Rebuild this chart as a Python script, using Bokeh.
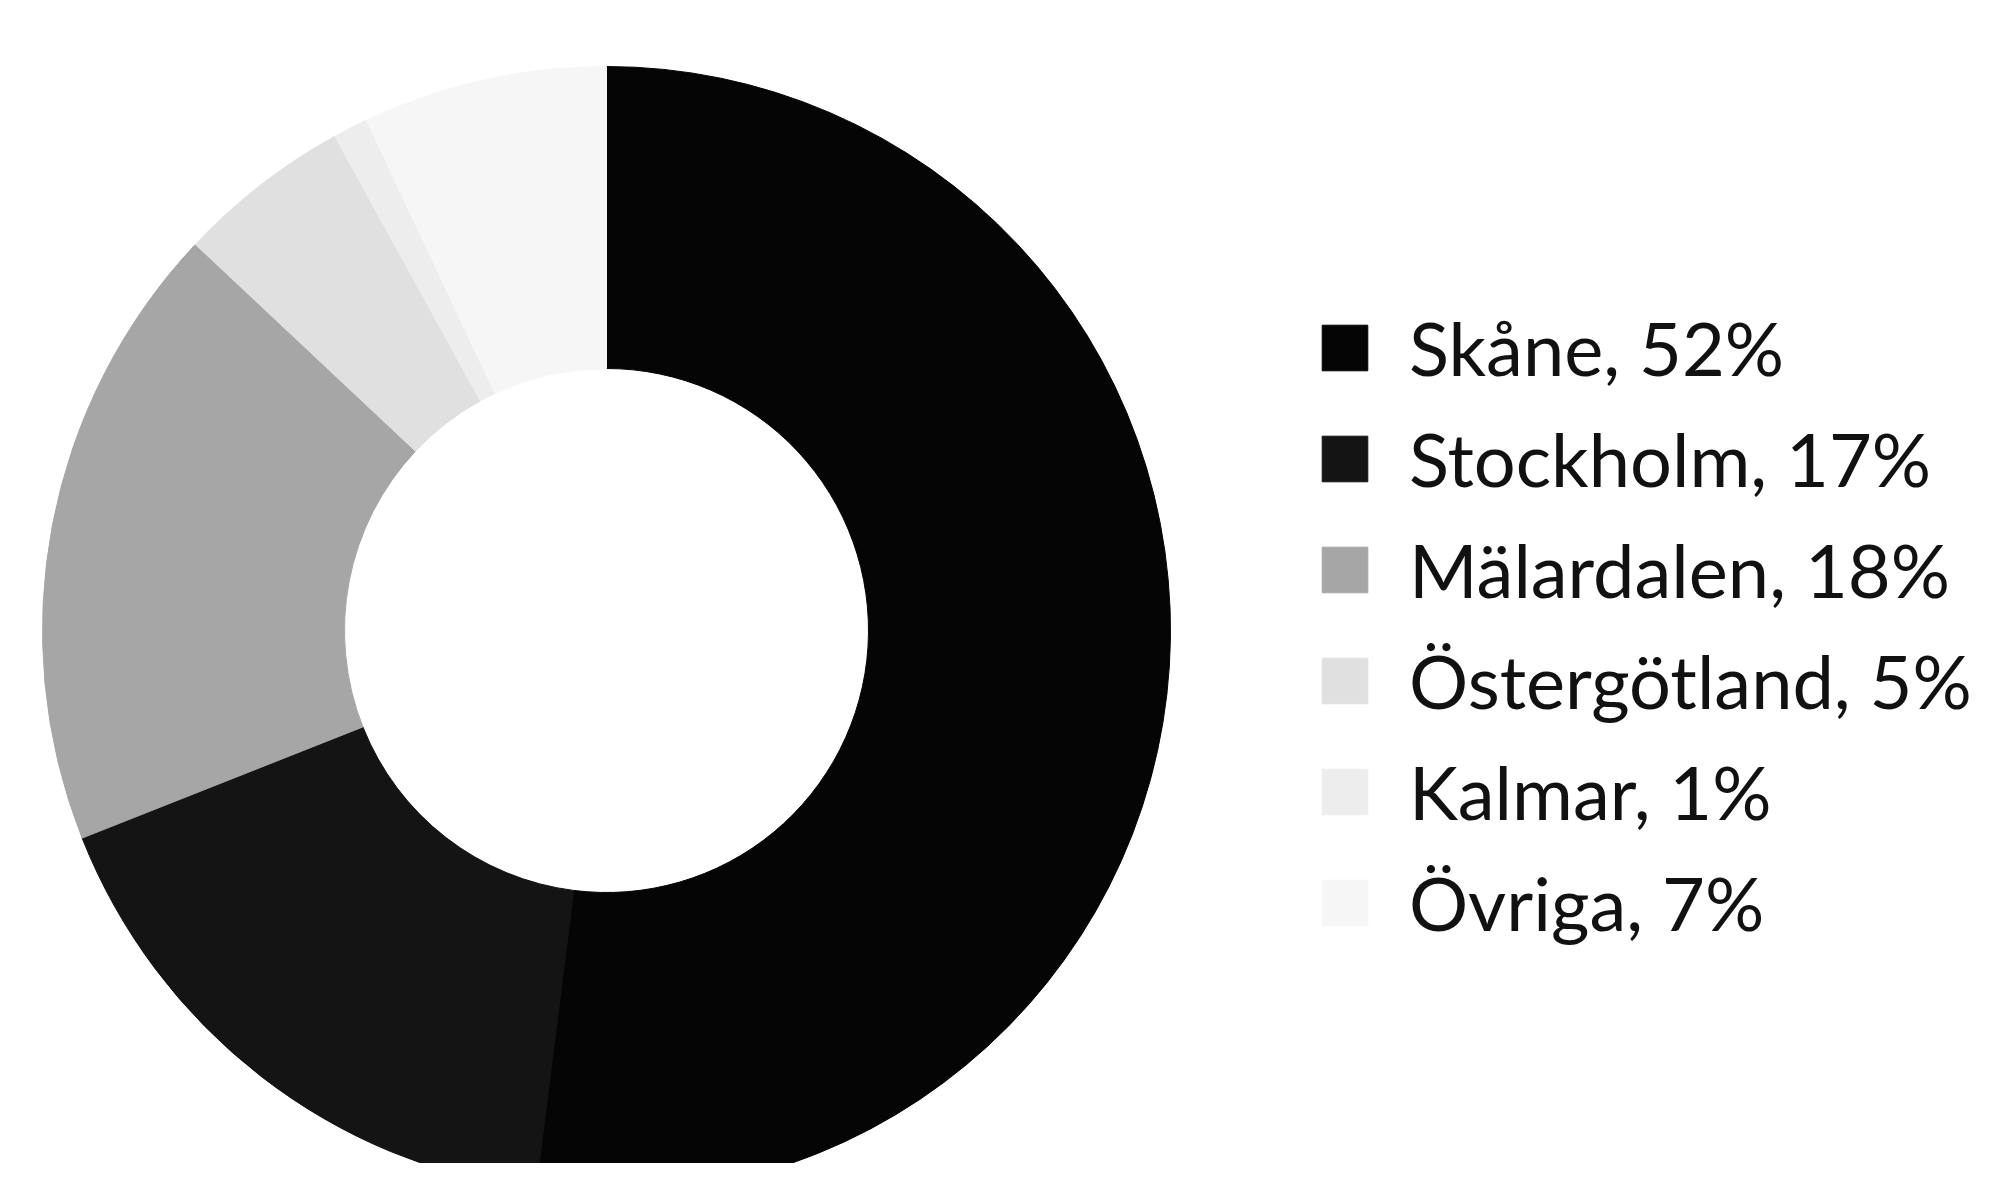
import math
from bokeh.plotting import figure
from bokeh.models import Range1d, Legend, LegendItem
from bokeh.embed import file_html
from bokeh.resources import INLINE

regions = ["Skåne", "Stockholm", "Mälardalen", "Östergötland", "Kalmar", "Övriga"]
shares = [52, 17, 18, 5, 1, 7]
colors = ["#050505", "#141414", "#a6a6a6", "#e0e0e0", "#ededed", "#f6f6f6"]
labels = [f"{r}, {s}%" for r, s in zip(regions, shares)]

W, H = 1982, 1163
cx, cy = 606, H - 630
r_in, r_out = 262, 564

total = float(sum(shares))
starts, ends = [], []
acc = 0.0
for s in shares:
    starts.append(math.pi / 2 - 2 * math.pi * acc / total)
    acc += s
    ends.append(math.pi / 2 - 2 * math.pi * acc / total)

p = figure(width=W, height=H, output_backend="svg", toolbar_location=None,
           x_range=Range1d(0, W), y_range=Range1d(0, H), min_border=0)
p.axis.visible = False
p.grid.visible = False
p.outline_line_color = None
p.background_fill_color = "white"
p.border_fill_color = "white"

items = []
for i in range(len(shares)):
    g = p.annular_wedge(x=cx, y=cy, inner_radius=r_in, outer_radius=r_out,
                        start_angle=starts[i], end_angle=ends[i], direction="clock",
                        fill_color=colors[i], line_color=colors[i], line_width=1)
    items.append(LegendItem(label=labels[i], renderers=[g]))

legend = Legend(items=items, location=(1316, 216), orientation="vertical",
                glyph_width=57, glyph_height=57, label_standoff=36,
                label_text_font="Lato", label_text_font_size="74px",
                label_text_color="#111111", spacing=22, padding=0, margin=0,
                border_line_color=None, background_fill_alpha=0)
p.add_layout(legend, "center")

open("out.html", "w").write(file_html(p, INLINE))
